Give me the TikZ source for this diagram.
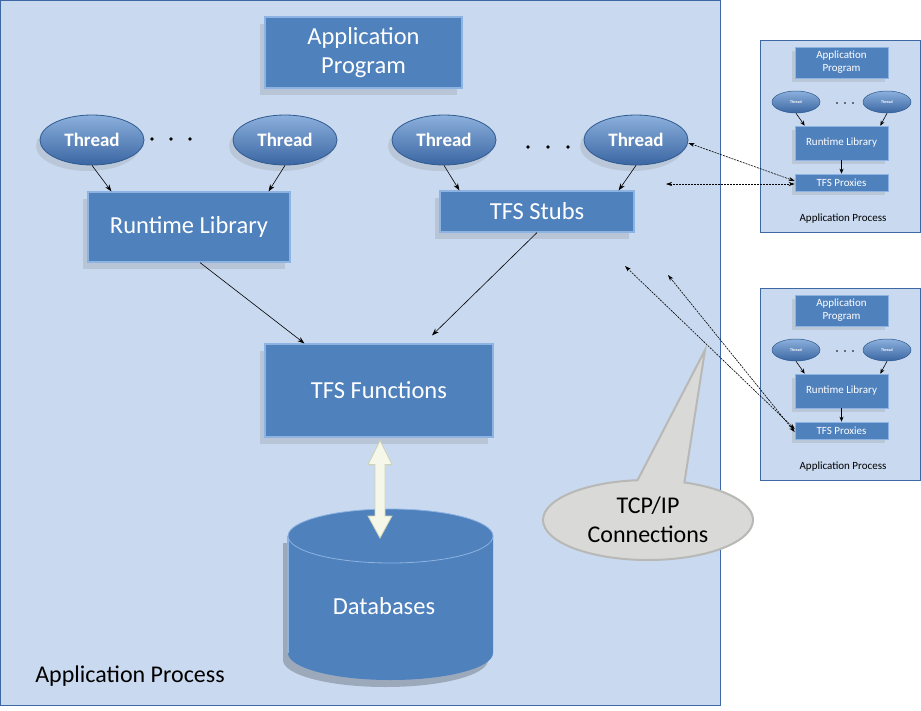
\documentclass[tikz,border=0pt]{standalone}
\usepackage{fontspec}
\setmainfont{Carlito}
\usetikzlibrary{shapes.geometric,shapes.callouts,shadows,calc,arrows.meta}
\definecolor{bgblue}{HTML}{C9D9EF}
\definecolor{bgedge}{HTML}{3C68A4}
\definecolor{boxblue}{HTML}{4F81BD}
\definecolor{boxedge}{HTML}{8DB3E2}
\definecolor{thtop}{HTML}{8CB0DD}
\definecolor{thbot}{HTML}{3A66A2}
\definecolor{thedge}{HTML}{2F5A8F}
\definecolor{calloutfill}{HTML}{D9DAD8}
\definecolor{calloutedge}{HTML}{B8B9B6}
\definecolor{arrowfill}{HTML}{F5F7E8}
\definecolor{arrowedge}{HTML}{CDD3B5}
\tikzset{
  box/.style={rectangle, fill=boxblue, draw=boxedge, line width=1.2pt, text=white,
    font=\fontsize{24.5}{29}\selectfont, align=center, inner sep=0pt,
    drop shadow={shadow xshift=-5pt, shadow yshift=-7pt, opacity=0.22}},
  sbox/.style={rectangle, fill=boxblue, draw=boxedge, line width=0.6pt, text=white,
    font=\fontsize{11}{13}\selectfont, align=center, inner sep=0pt,
    minimum width=93pt,
    drop shadow={shadow xshift=-3pt, shadow yshift=-4pt, opacity=0.2}},
  thread/.style={ellipse, top color=thtop, bottom color=thbot, draw=thedge, line width=0.8pt,
    text=white, font=\bfseries\fontsize{19}{22}\selectfont, minimum width=104pt,
    minimum height=50pt, inner sep=0pt,
    drop shadow={shadow xshift=-4pt, shadow yshift=-6pt, opacity=0.2}},
  sthread/.style={ellipse, top color=thtop, bottom color=thbot, draw=thedge, line width=0.5pt,
    text=white, font=\bfseries\fontsize{4}{5}\selectfont, minimum width=48pt,
    minimum height=22pt, inner sep=0pt},
  conn/.style={-{Stealth[length=7pt,width=5pt]}, line width=0.6pt},
  sconn/.style={-{Stealth[length=5pt,width=4pt]}, line width=0.6pt},
  net/.style={{Stealth[length=6pt,width=4pt]}-{Stealth[length=6pt,width=4pt]},
    line width=0.6pt, dash pattern=on 2pt off 1pt},
  panel/.style={fill=bgblue, draw=bgedge, line width=0.8pt},
  dblarrow/.style={fill=arrowfill, draw=arrowedge, line width=0.8pt},
  plabel/.style={font=\fontsize{24}{28}\selectfont, text=black},
}
\begin{document}
\begin{tikzpicture}[x=1pt,y=-1pt]
\useasboundingbox (0,0) rectangle (921,710);
\fill[white] (0,0) rectangle (921,710);
\draw[panel, line width=1pt] (0.5,0.5) rectangle (720,705);

% main process
\node[box, minimum width=197pt, minimum height=71pt] (ap) at (363.5,52.5) {Application\\Program};
\node[thread] (th1) at (92,140) {Thread};
\node[thread] (th2) at (285,140) {Thread};
\node[thread] (th3) at (444,140) {Thread};
\node[thread] (th4) at (636,140) {Thread};
\foreach \x in {152,171,190} \fill (\x,139) circle (1.8);
\foreach \x in {528,548,568} \fill (\x,147) circle (1.8);

\node[box, minimum width=202pt, minimum height=70pt] (rt) at (189,227) {Runtime Library};
\node[box, minimum width=194pt, minimum height=41pt] (st) at (537,211.5) {TFS Stubs};
\node[box, minimum width=228pt, minimum height=93pt] (fn) at (379,390.5) {TFS Functions};

\draw[conn] (th1.south) -- ($(rt.north west)+(24,0)$);
\draw[conn] (th2.south) -- ($(rt.north east)+(-22,0)$);
\draw[conn] (th3.south) -- ($(st.north west)+(20,0)$);
\draw[conn] (th4.south) -- ($(st.north east)+(-16,0)$);
\draw[conn] ($(rt.south)+(11,0)$) -- ($(fn.north west)+(40,0)$);
\draw[conn] (st.south) -- ($(fn.north)+(53,-8)$);

% database cylinder
\fill[black, opacity=0.22] (283,543) -- (283,660) arc[start angle=180,end angle=0,x radius=102.5,y radius=27] -- (488,543) -- cycle;
\fill[boxblue] (288,536) -- (288,653) arc[start angle=180,end angle=0,x radius=102.5,y radius=27] -- (493,536) -- cycle;
\draw[boxedge, line width=1.2pt] (288,536) -- (288,653);
\draw[fill=boxblue, draw=boxedge, line width=0.8pt] (390.5,536) ellipse [x radius=102.5, y radius=27];
\node[text=white, font=\fontsize{24.5}{28}\selectfont] (db) at (384,606) {Databases};
\coordinate (fnA) at ($(fn.south)+(1,3)$);
\coordinate (dbtop) at (380,538);
\draw[dblarrow] (fnA) -- ($(fnA)+(12,24)$) -- ($(fnA)+(5,24)$) -- ($(dbtop)+(5,-22)$)
  -- ($(dbtop)+(12,-22)$) -- (dbtop) -- ($(dbtop)+(-12,-22)$) -- ($(dbtop)+(-5,-22)$)
  -- ($(fnA)+(-5,24)$) -- ($(fnA)+(-12,24)$) -- cycle;

\node[plabel] (apl) at (130,676) {Application Process};

% callout
\node[ellipse callout, callout absolute pointer={(705,350)}, callout pointer arc=26,
  fill=calloutfill, draw=calloutedge, line width=2pt, minimum width=210pt, minimum height=80pt,
  align=center, font=\fontsize{24}{29}\selectfont, inner sep=0pt] (tcp) at (648,520) {TCP/IP\\Connections};

% remote panels
\foreach \i/\oy in {1/0,2/248} {
  \begin{scope}[yshift=-\oy pt]
    \draw[panel] (760,40) rectangle (920,232);
    \node[sbox, minimum height=31pt] (sap\i) at (841.5,62.5) {Application\\Program};
    \node[sthread] (sta\i) at (796,102) {Thread};
    \node[sthread] (stb\i) at (887,102) {Thread};
    \foreach \x in {837,845,853} \fill (\x,103) circle (0.8);
    \node[sbox, minimum height=17pt, font=\fontsize{11}{13}\selectfont] (sp\i) at (841.5,182.5) {TFS Proxies};
    \node[sbox, minimum height=34pt] (srt\i) at (841.5,143) {Runtime Library};
    \node[font=\fontsize{11}{13}\selectfont] (spl\i) at (843,219) {Application Process};
    \draw[sconn] (sta\i.south) -- ($(srt\i.north west)+(10,0)$);
    \draw[sconn] (stb\i.south) -- ($(srt\i.north east)+(-8,0)$);
    \draw[sconn] (srt\i.south) -- (sp\i.north);
  \end{scope}
}

% network connections
\coordinate (c2) at (666,184);
\coordinate (c3) at (625,266);
\coordinate (c4) at (668,275);
\draw[net] ($(th4.east)+(0,3)$) -- ($(sp1.west)+(0,-1.5)$);
\draw[net] (c2) -- ($(sp1.west)+(0,1.5)$);
\draw[net] (c3) -- ($(sp2.west)+(0,-1.5)$);
\draw[net] (c4) -- ($(sp2.west)+(0,1.5)$);
\end{tikzpicture}
\end{document}
